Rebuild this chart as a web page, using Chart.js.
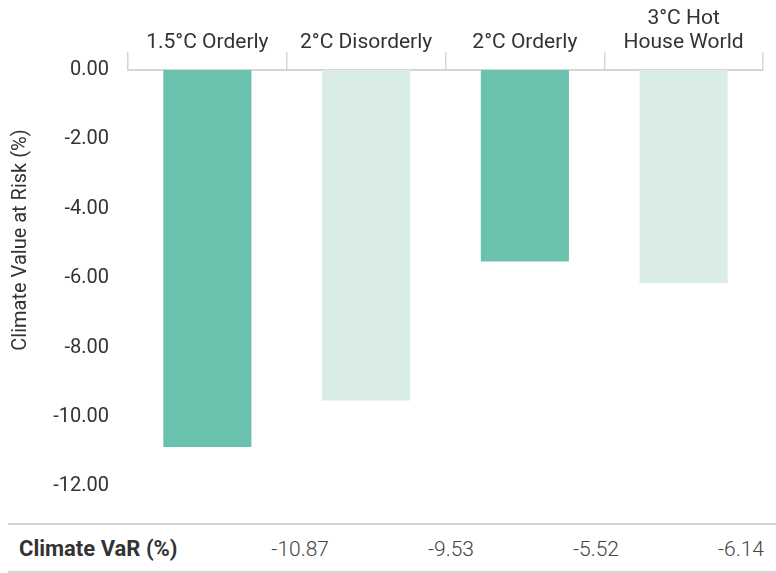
<!DOCTYPE html>
<html>
<head>
<meta charset="utf-8">
<script src="https://cdn.jsdelivr.net/npm/chart.js@4.4.0/dist/chart.umd.min.js"></script>
<style>
  body { margin:0; background:#fff; font-family:Roboto, "DejaVu Sans", sans-serif; color:#333; }
  #wrap { position:relative; width:776px; height:573px; }
  #chartBox { position:absolute; left:0; top:0; width:776px; height:521px; }
  #varRow { position:absolute; left:8px; top:523px; width:768px; height:46px;
            border-top:2px solid #d6d6d6; border-bottom:2px solid #d6d6d6; }
  #varRow span { position:absolute; top:11px; font-size:21px; line-height:26px; }
  #varRow .head { left:11px; font-weight:bold; font-size:22px; color:#333; }
  #varRow .val { text-align:right; width:100px; color:#444; font-weight:300; }
</style>
</head>
<body>
<div id="wrap">
  <div id="chartBox"><canvas id="varChart"></canvas></div>
  <div id="varRow"><span class="head">Climate VaR (%)</span></div>
</div>
<script>
// ===== Data =====
const scenarios = ['1.5°C Orderly', '2°C Disorderly', '2°C Orderly', ['3°C Hot', 'House World']];
const climateVaR = [-10.87, -9.53, -5.52, -6.14];
const barColors = ['#6AC1AD', '#D9ECE7', '#6AC1AD', '#D9ECE7'];
const axisTitle = 'Climate Value at Risk (%)';

// ===== Y axis title, placed like the original =====
const sideTitle = {
    id: 'sideTitle',
    afterDraw(chart){
        const c = chart.ctx;
        c.save();
        c.translate(21, 240);
        c.rotate(-Math.PI/2);
        c.font = '20px Roboto, "DejaVu Sans", sans-serif';
        c.fillStyle = '#333';
        c.textAlign = 'center';
        c.textBaseline = 'middle';
        c.fillText(axisTitle, 0, 0);
        c.restore();
    }
};

function initChart(){
    const ctx = document.getElementById('varChart').getContext('2d');
    new Chart(ctx, {
        type: 'bar',
        data: {
            labels: scenarios,
            datasets: [{ data: climateVaR, backgroundColor: barColors, categoryPercentage: 1, barPercentage: 0.555 }]
        },
        options: {
            responsive: true,
            maintainAspectRatio: false,
            animation: false,
            layout: { padding: { left: 0, right: 13, top: 0, bottom: 0 } },
            plugins: { legend: { display: false }, tooltip: { enabled: false } },
            scales: {
                x: {
                    position: 'top',
                    afterFit: s => { s.height = 70; s.paddingLeft = 0; s.paddingRight = 0; },
                    grid: { drawOnChartArea: false, drawTicks: true, tickLength: 18, color: '#d6d6d6', lineWidth: 1.5 },
                    border: { display: true, color: '#d6d6d6', width: 2 },
                    ticks: { color: '#333', padding: -3, maxRotation: 0,
                             font: { family: 'Roboto', size: 21, lineHeight: '24px' } }
                },
                y: {
                    min: -13, max: 0,
                    afterFit: s => { s.width = 128; s.paddingTop = 0; s.paddingBottom = 0; },
                    afterBuildTicks: s => { s.ticks = s.ticks.filter(t => t.value % 2 === 0); },
                    grid: { display: false, drawTicks: false },
                    border: { display: false },
                    ticks: { stepSize: 2, padding: 19, color: '#333',
                             font: { family: 'Roboto', size: 20 },
                             callback: v => Number(v).toFixed(2) }
                }
            }
        },
        plugins: [sideTitle]
    });
}

// ===== Table row below chart =====
function buildRow(){
    const row = document.getElementById('varRow');
    const rights = [321, 466, 611, 756];
    climateVaR.forEach((v, i) => {
        const s = document.createElement('span');
        s.className = 'val';
        s.style.left = (rights[i] - 100) + 'px';
        s.textContent = v.toFixed(2);
        row.appendChild(s);
    });
}

initChart();
buildRow();
</script>
</body>
</html>
